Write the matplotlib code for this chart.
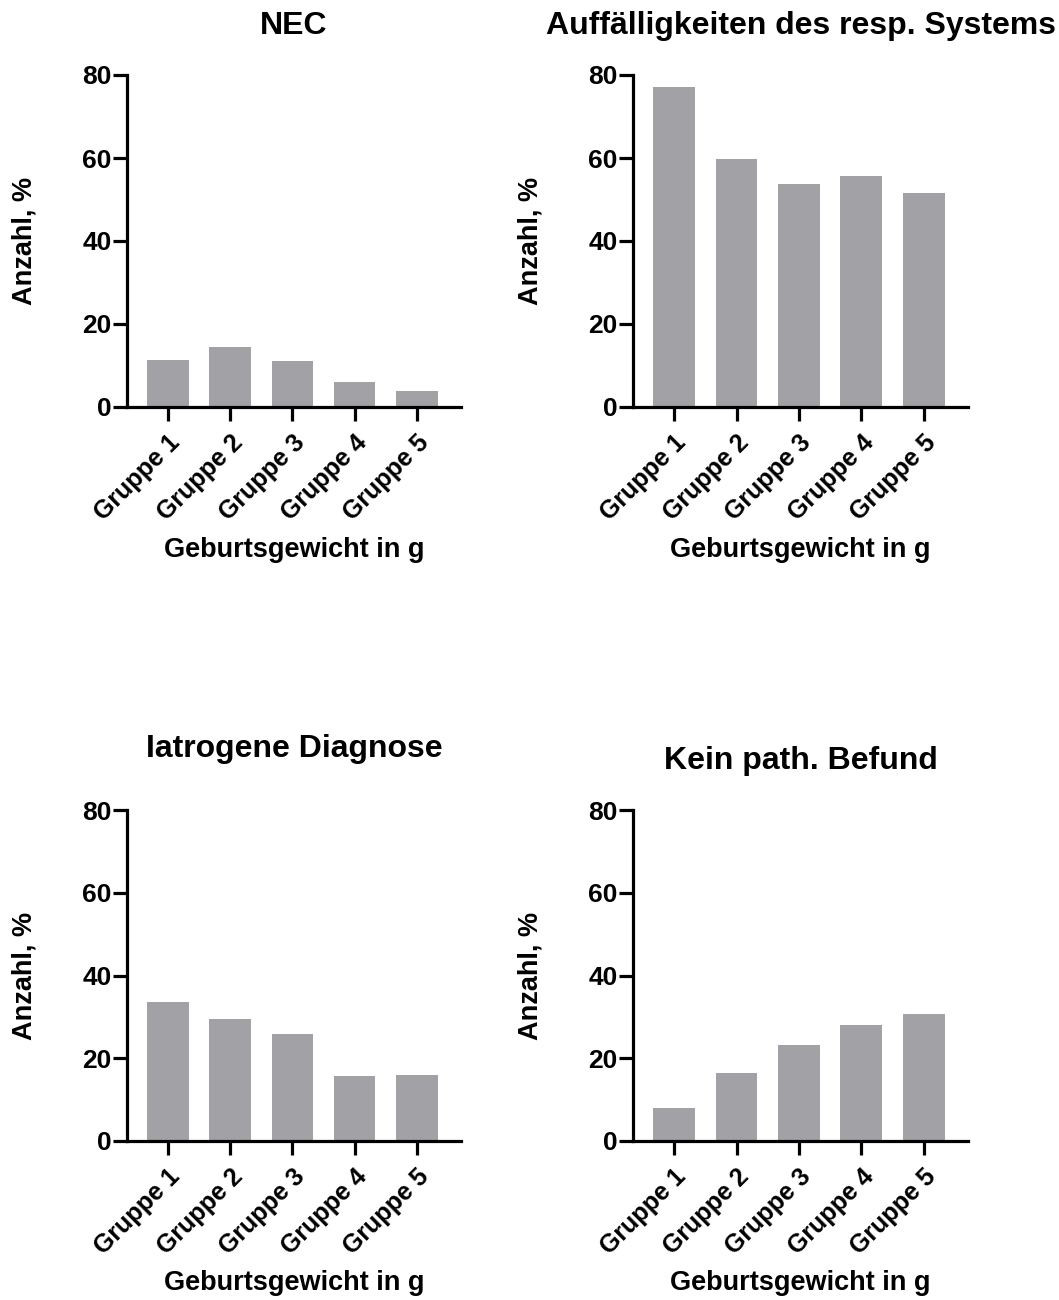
import matplotlib
matplotlib.use("Agg")
import matplotlib.pyplot as plt
import numpy as np

plt.rcParams['font.family'] = ['Liberation Sans', 'DejaVu Sans']
plt.rcParams['font.weight'] = 'bold'

categories = ["Gruppe 1", "Gruppe 2", "Gruppe 3", "Gruppe 4", "Gruppe 5"]
nec = [11.3, 14.5, 11.0, 6.1, 3.9]
resp = [77.2, 59.8, 53.8, 55.7, 51.5]
iatrogen = [33.7, 29.6, 25.9, 15.7, 16.0]
kein_befund = [7.9, 16.4, 23.1, 28.0, 30.6]

titles = ["NEC", "Auffälligkeiten des resp. Systems", "Iatrogene Diagnose", "Kein path. Befund"]
series = [nec, resp, iatrogen, kein_befund]
y_ticks = [0, 20, 40, 60, 80]
xlabel = "Geburtsgewicht in g"
ylabel = "Anzahl, %"

W, H = 1059, 1300
fig = plt.figure(figsize=(W / 100, H / 100), dpi=100)

# axes boxes in pixels: left, right, top, bottom
boxes = [(127, 461, 75, 407), (633, 968, 75, 407),
         (127, 461, 810, 1141), (633, 968, 810, 1141)]
title_base = [34, 34, 757, 769]
xlabel_base = [557, 557, 1290, 1290]
ylabel_x = [24, 530, 24, 530]

bar_color = "#a2a1a6"
lw = 2.3

for i, (l, r, t, b) in enumerate(boxes):
    ax = fig.add_axes([l / W, 1 - b / H, (r - l) / W, (b - t) / H])
    x = np.arange(len(categories))
    ax.bar(x, series[i], width=0.67, color=bar_color, edgecolor='none')
    ax.set_xlim(-0.66, 4.71)
    ax.set_ylim(0, 80)
    ax.set_yticks(y_ticks)
    ax.set_yticklabels([str(v) for v in y_ticks], fontsize=19, fontweight='bold')
    ax.set_xticks(x)
    ax.set_xticklabels(categories, fontsize=18, fontweight='bold', rotation=45,
                       ha='right', va='top', rotation_mode='anchor')
    for s in ['top', 'right']:
        ax.spines[s].set_visible(False)
    for s in ['left', 'bottom']:
        ax.spines[s].set_linewidth(lw)
    ax.tick_params(axis='both', width=lw, length=10, color='black')
    ax.tick_params(axis='y', pad=1)
    ax.tick_params(axis='x', pad=7)
    cx = (l + r) / 2 / W
    fig.text(cx, 1 - title_base[i] / H, titles[i], ha='center', va='baseline',
             fontsize=23, fontweight='bold')
    fig.text(cx, 1 - xlabel_base[i] / H, xlabel, ha='center', va='baseline',
             fontsize=19.5, fontweight='bold')
    fig.text(ylabel_x[i] / W, 1 - (t + b) / 2 / H, ylabel, ha='center', va='center',
             rotation=90, fontsize=19.5, fontweight='bold')

fig.savefig("out.png", dpi=100, facecolor='white')
